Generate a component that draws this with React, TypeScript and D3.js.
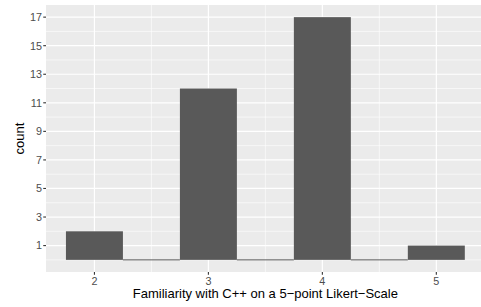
import React from "react";
import * as d3 from "d3";

const width = 481;
const height = 307;
const margin = { top: 5, right: -3.75, bottom: 35, left: 46 };

// histogram bins (binwidth 0.5, centred on each half step)
const binMids = [2, 2.5, 3, 3.5, 4, 4.5, 5];
const counts = [2, 0, 12, 0, 17, 0, 1];
const binWidth = 0.5;

const xTicks = [2, 3, 4, 5];
const xMinor = [2.5, 3.5, 4.5];
const yTicks = [1, 3, 5, 7, 9, 11, 13, 15, 17];
const yMinor = [0, 2, 4, 6, 8, 10, 12, 14, 16];

const xLabel = "Familiarity with C++ on a 5\u2212point Likert\u2212Scale";
const yLabel = "count";

export default function App() {
  const x0 = d3.min(binMids)! - binWidth / 2;
  const x1 = d3.max(binMids)! + binWidth / 2;
  const xPad = (x1 - x0) * 0.05;
  const yMax = d3.max(counts)!;
  const yPad = yMax * 0.05;

  const xScale = d3.scaleLinear()
    .domain([x0 - xPad, x1 + xPad])
    .range([margin.left, width - margin.right]);
  const yScale = d3.scaleLinear()
    .domain([-yPad, yMax + yPad])
    .range([height - margin.bottom, margin.top]);

  const [pl, pr] = xScale.range();
  const [pb, pt] = yScale.range();
  const font = "'Liberation Sans', Arial, Helvetica, sans-serif";

  return (
    <svg width={width} height={height}
      style={{ position: "absolute", left: 0, top: 0, display: "block" }}
      fontFamily={font}>
      <rect x={0} y={0} width={width} height={height} fill="#fff" />
      <rect x={pl} y={pt} width={pr - pl} height={pb - pt} fill="#EBEBEB" />
      {yMinor.map(t => (
        <line key={"ym" + t} x1={pl} x2={pr} y1={yScale(t)} y2={yScale(t)} stroke="#fff" strokeWidth={0.6} />
      ))}
      {xMinor.map(t => (
        <line key={"xm" + t} x1={xScale(t)} x2={xScale(t)} y1={pt} y2={pb} stroke="#fff" strokeWidth={0.6} />
      ))}
      {yTicks.map(t => (
        <line key={"y" + t} x1={pl} x2={pr} y1={yScale(t)} y2={yScale(t)} stroke="#fff" strokeWidth={1.2} />
      ))}
      {xTicks.map(t => (
        <line key={"x" + t} x1={xScale(t)} x2={xScale(t)} y1={pt} y2={pb} stroke="#fff" strokeWidth={1.2} />
      ))}
      {binMids.map((m, i) => {
        const bx = xScale(m - binWidth / 2);
        const bw = xScale(m + binWidth / 2) - bx;
        const by = yScale(counts[i]);
        const bh = yScale(0) - by;
        return counts[i] > 0 ? (
          <rect key={"b" + i} x={bx} y={by} width={bw} height={bh} fill="#595959" />
        ) : (
          <line key={"b" + i} x1={bx} x2={bx + bw} y1={yScale(0)} y2={yScale(0)} stroke="#595959" strokeWidth={1} />
        );
      })}
      {yTicks.map(t => (
        <g key={"yt" + t} transform={`translate(${pl},${yScale(t)})`}>
          <line x1={-2.75} x2={0} stroke="#333" strokeWidth={1.1} />
          <text x={-4} dy="0.36em" textAnchor="end" fontSize={10.8} fill="#4D4D4D">{t}</text>
        </g>
      ))}
      {xTicks.map(t => (
        <g key={"xt" + t} transform={`translate(${xScale(t)},${pb})`}>
          <line y1={0} y2={2.75} stroke="#333" strokeWidth={1.1} />
          <text y={13} textAnchor="middle" fontSize={10.8} fill="#4D4D4D">{t}</text>
        </g>
      ))}
      <text x={(pl + pr) / 2} y={298} textAnchor="middle" fontSize={13} fill="#000">{xLabel}</text>
      <text transform={`translate(24,${(pt + pb) / 2}) rotate(-90)`} textAnchor="middle" fontSize={13} fill="#000">{yLabel}</text>
    </svg>
  );
}
